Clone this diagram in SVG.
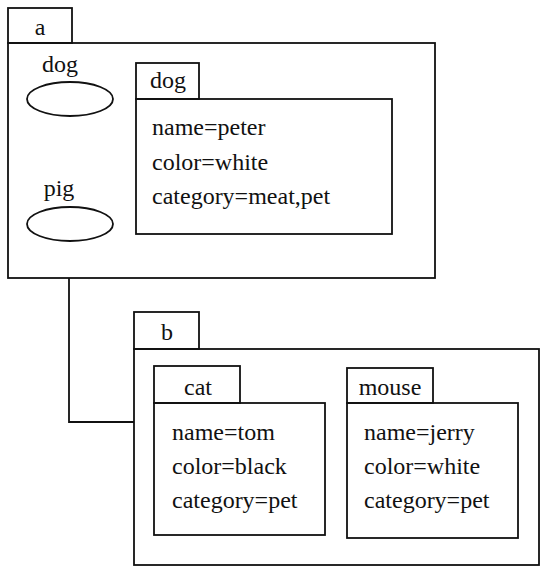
<svg xmlns="http://www.w3.org/2000/svg" width="551" height="573" viewBox="0 0 551 573">
<style>
.b{fill:none;stroke:#111;stroke-width:1.8}
.t{font-family:"Liberation Serif",serif;font-size:24px;fill:#111}
.m{text-anchor:middle}
</style>
<rect width="551" height="573" fill="#fff"/>
<g id="connectors">
<polyline class="b" points="69,278 69,422 134,422"/>
</g>
<g id="package-a">
<rect class="b" x="8" y="8" width="64" height="35"/>
<rect class="b" x="8" y="43" width="427" height="235"/>
<text class="t m" x="40" y="35">a</text>
</g>
<g id="obj-dog">
<text class="t m" x="60" y="72">dog</text>
<ellipse class="b" cx="70" cy="99" rx="43" ry="17"/>
</g>
<g id="obj-pig">
<text class="t m" x="59" y="196">pig</text>
<ellipse class="b" cx="70" cy="224" rx="43" ry="17"/>
</g>
<g id="class-dog">
<rect class="b" x="136" y="63" width="63" height="36"/>
<rect class="b" x="136" y="99" width="256" height="135"/>
<text class="t m" x="168" y="88">dog</text>
<text class="t" x="152" y="135">name=peter</text>
<text class="t" x="152" y="170">color=white</text>
<text class="t" x="152" y="204">category=meat,pet</text>
</g>
<g id="package-b">
<rect class="b" x="134" y="312" width="65" height="37"/>
<rect class="b" x="134" y="349" width="405" height="216"/>
<text class="t m" x="167" y="340">b</text>
</g>
<g id="class-cat">
<rect class="b" x="154" y="366" width="86" height="37"/>
<rect class="b" x="154" y="403" width="171" height="132"/>
<text class="t m" x="198" y="395">cat</text>
<text class="t" x="172" y="440">name=tom</text>
<text class="t" x="172" y="474">color=black</text>
<text class="t" x="172" y="508">category=pet</text>
</g>
<g id="class-mouse">
<rect class="b" x="347" y="368" width="86" height="35"/>
<rect class="b" x="347" y="403" width="171" height="135"/>
<text class="t m" x="390" y="395">mouse</text>
<text class="t" x="364" y="440">name=jerry</text>
<text class="t" x="364" y="474">color=white</text>
<text class="t" x="364" y="508">category=pet</text>
</g>
</svg>
